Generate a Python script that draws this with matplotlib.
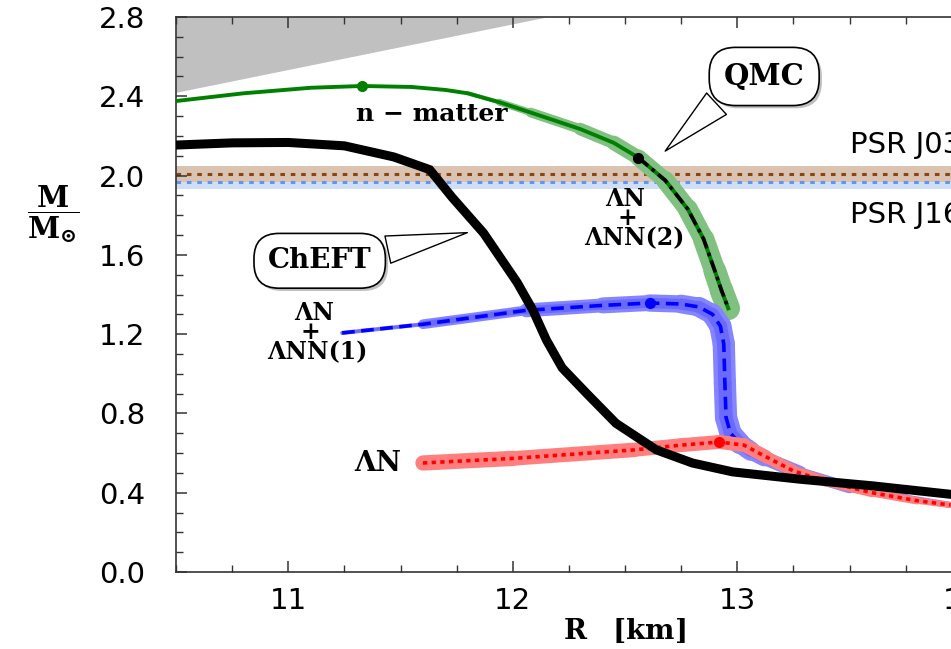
import matplotlib
matplotlib.use('Agg')
import matplotlib.pyplot as plt
import matplotlib.patheffects as pe
from matplotlib.collections import LineCollection
from matplotlib.ticker import MultipleLocator, FormatStrFormatter
import numpy as np

plt.rcParams['mathtext.fontset'] = 'dejavuserif'

# --- data (R in km, M in solar masses) ---
# n-matter (QMC) curve
R_nmat = [10.50, 10.80, 11.10, 11.33, 11.55, 11.70, 11.80, 11.94, 12.08,
          12.30, 12.45, 12.56, 12.68, 12.78, 12.85, 12.90, 12.93, 12.96]
M_nmat = [2.376, 2.415, 2.443, 2.452, 2.447, 2.432, 2.415, 2.370, 2.318,
          2.235, 2.165, 2.090, 1.975, 1.830, 1.680, 1.520, 1.420, 1.330]
i_onset = 11  # hyperon onset on the n-matter curve (black dot)

# Lambda N + Lambda NN (1)
R_lnn1 = [11.24, 11.60, 12.06, 12.40, 12.61, 12.75, 12.83, 12.89, 12.925,
          12.94, 12.945, 12.95, 12.97, 13.01, 13.06, 13.12, 13.28, 13.50,
          13.75, 13.95]
M_lnn1 = [1.206, 1.250, 1.320, 1.345, 1.357, 1.352, 1.337, 1.300, 1.240,
          1.150, 0.950, 0.780, 0.700, 0.650, 0.610, 0.575, 0.500, 0.425,
          0.375, 0.338]

# Lambda N
R_ln = [11.60, 12.00, 12.54, 12.75, 12.92, 13.03, 13.13, 13.25, 13.40,
        13.60, 13.80, 13.95]
M_ln = [0.550, 0.573, 0.616, 0.640, 0.656, 0.640, 0.580, 0.510, 0.455,
        0.400, 0.360, 0.338]

# ChEFT
R_cheft = [10.50, 10.75, 11.00, 11.25, 11.47, 11.63, 11.73, 11.87, 12.02,
           12.09, 12.15, 12.22, 12.33, 12.46, 12.64, 12.80, 12.98, 13.28,
           13.60, 13.95]
M_cheft = [2.154, 2.165, 2.167, 2.150, 2.094, 2.030, 1.890, 1.710, 1.460,
           1.320, 1.170, 1.030, 0.900, 0.750, 0.616, 0.550, 0.505, 0.468,
           0.435, 0.392]

# excluded (causality) region boundary
R_caus = [10.50, 12.15]
M_caus = [2.42, 2.80]

# pulsar masses
psr_names = ['PSR J0348+0432', 'PSR J1614-2230']
psr_mass = [2.01, 1.97]
psr_err = [0.04, 0.04]


def band(ax, R, M, widths, color, z):
    pts = np.column_stack([R, M])
    segs = np.stack([pts[:-1], pts[1:]], axis=1)
    w = 0.5 * (np.array(widths[:-1]) + np.array(widths[1:]))
    lc = LineCollection(segs, linewidths=w, colors=color, capstyle='round',
                        joinstyle='round', zorder=z)
    ax.add_collection(lc)


fig = plt.figure(figsize=(9.51, 6.49), dpi=100)
ax = fig.add_axes([176 / 951, 77 / 649, 898 / 951, 555 / 649])

ax.set_xlim(10.5, 14.5)
ax.set_ylim(0.0, 2.8)

# causality region
ax.fill_between(R_caus, M_caus, 2.8, color='#c0c0c0', lw=0, zorder=1)

# pulsar bands
ax.axhspan(psr_mass[1] - psr_err[1], psr_mass[1] + psr_err[1],
           color='#cfdffa', lw=0, zorder=1)
ax.axhspan(psr_mass[0] - psr_err[0], psr_mass[0] + psr_err[0],
           color='#dbc3b2', lw=0, zorder=1.1)
ax.axhline(psr_mass[0], color='#8b4513', lw=2.2, ls=(0, (1.5, 1.9)), zorder=1.2)
ax.axhline(psr_mass[1], color='#6495ed', lw=2.2, ls=(0, (1.5, 1.9)), zorder=1.2)
ax.text(13.50, 2.155, psr_names[0], fontsize=21, family='DejaVu Sans',
        va='center', ha='left')
ax.text(13.50, 1.80, psr_names[1], fontsize=21, family='DejaVu Sans',
        va='center', ha='left')

# n-matter / QMC
w_g = [0, 0, 0, 0, 0, 0, 2, 4, 6, 8, 10, 11, 13, 14, 15, 16, 17, 17]
band(ax, R_nmat, M_nmat, w_g, '#80c080', 2)
ax.plot(R_nmat, M_nmat, color='#008000', lw=2.8, zorder=3,
        solid_joinstyle='round')
ax.plot(R_nmat[i_onset:], M_nmat[i_onset:], color='black', lw=2.6,
        ls=(0, (3.5, 1.3, 1, 1.3)), zorder=4)
ig = int(np.argmax(M_nmat))
ax.plot(R_nmat[ig], M_nmat[ig], 'o', color='#008000', ms=7, zorder=4)
ax.plot(R_nmat[i_onset], M_nmat[i_onset], 'o', color='black', ms=7, zorder=5)

# Lambda N + Lambda NN (1)
w_b = [1, 5, 9, 11, 12, 13, 14, 15, 16, 16, 16, 16, 16, 15, 13, 11, 9, 7, 5, 4]
band(ax, R_lnn1, M_lnn1, w_b, '#8585ff', 5)
band(ax, R_lnn1, M_lnn1, [0.6 * v for v in w_b], '#6a6aff', 5.1)
ax.plot(R_lnn1, M_lnn1, color='#0000ff', lw=2.6, ls=(0, (3.5, 1.8)), zorder=6)
ib = int(np.argmax(M_lnn1))
ax.plot(R_lnn1[ib], M_lnn1[ib], 'o', color='#0000ff', ms=7, zorder=6)

# Lambda N
w_r = [11, 11, 10, 10, 10, 10, 9, 8, 7, 6, 5, 4]
band(ax, R_ln, M_ln, w_r, '#ff7f7f', 7)
ax.plot(R_ln, M_ln, color='#ff0000', lw=2.6, ls=(0, (1.2, 1.2)), zorder=8)
ir = int(np.argmax(M_ln))
ax.plot(R_ln[ir], M_ln[ir], 'o', color='#ff0000', ms=7, zorder=8)

# ChEFT
ax.plot(R_cheft, M_cheft, color='black', lw=6.5, zorder=9,
        solid_joinstyle='miter')

# curve labels
lab = dict(fontsize=17, family='DejaVu Serif', weight='bold',
           ha='center', va='center', zorder=10)
ax.text(11.64, 2.31, 'n \u2212 matter', fontsize=18, family='DejaVu Serif',
        weight='bold', ha='center', va='center', zorder=10)
ax.text(12.50, 1.880, '\u039bN', **lab)
ax.text(12.51, 1.786, '+', **lab)
ax.text(12.54, 1.685, '\u039bNN(2)', **lab)
ax.text(11.115, 1.305, '\u039bN', **lab)
ax.text(11.10, 1.210, '+', **lab)
ax.text(11.13, 1.110, '\u039bNN(1)', **lab)
ax.text(11.40, 0.545, '\u039bN', fontsize=20, family='DejaVu Serif',
        weight='bold', ha='center', va='center', zorder=10)

# callouts
shadow = [pe.SimplePatchShadow(offset=(2, -2), alpha=0.35), pe.Normal()]
box = dict(boxstyle='round,pad=0.5,rounding_size=0.9', fc='white',
           ec='black', lw=1.2)
a1 = ax.annotate('QMC', xy=(12.67, 2.114), xytext=(13.12, 2.50),
                 fontsize=21, family='DejaVu Serif', weight='bold',
                 ha='center', va='center', zorder=11, bbox=box,
                 arrowprops=dict(arrowstyle='wedge,tail_width=1.0',
                                 fc='white', ec='black', lw=1.0,
                                 relpos=(0.12, 0.1)))
a1.get_bbox_patch().set_path_effects(shadow)
a2 = ax.annotate('ChEFT', xy=(11.81, 1.715), xytext=(11.14, 1.57),
                 fontsize=20, family='DejaVu Serif', weight='bold',
                 ha='center', va='center', zorder=11, bbox=dict(box),
                 arrowprops=dict(arrowstyle='wedge,tail_width=1.0',
                                 fc='white', ec='black', lw=1.0,
                                 relpos=(0.92, 0.72)))
a2.get_bbox_patch().set_path_effects(shadow)

# axes styling
for s in ['left', 'bottom', 'top', 'right']:
    ax.spines[s].set_color('#333333')
    ax.spines[s].set_linewidth(1.2)
ax.xaxis.set_major_locator(MultipleLocator(1.0))
ax.xaxis.set_minor_locator(MultipleLocator(0.25))
ax.yaxis.set_major_locator(MultipleLocator(0.4))
ax.yaxis.set_minor_locator(MultipleLocator(0.1))
ax.yaxis.set_major_formatter(FormatStrFormatter('%.1f'))
ax.tick_params(which='both', direction='in', top=True, right=True,
               color='#333333')
ax.tick_params(which='major', length=8, width=1.1, labelsize=21, pad=11)
ax.tick_params(which='minor', length=5, width=1.0)
ax.tick_params(axis='y', which='major', pad=22)
for t in ax.get_xticklabels() + ax.get_yticklabels():
    t.set_family('DejaVu Sans')

ax.set_xlabel(r'$\mathbf{R\ \ \ [km]}$', fontsize=20, va='center')
ax.xaxis.set_label_coords(0.499, -0.105)
ax.set_ylabel(r'$\dfrac{\mathbf{M}}{\mathbf{M}_{\mathbf{\odot}}}$',
              fontsize=21, rotation=0, ha='center', va='center')
ax.yaxis.set_label_coords(-0.137, 0.645)

fig.savefig('out.png', dpi=100)
